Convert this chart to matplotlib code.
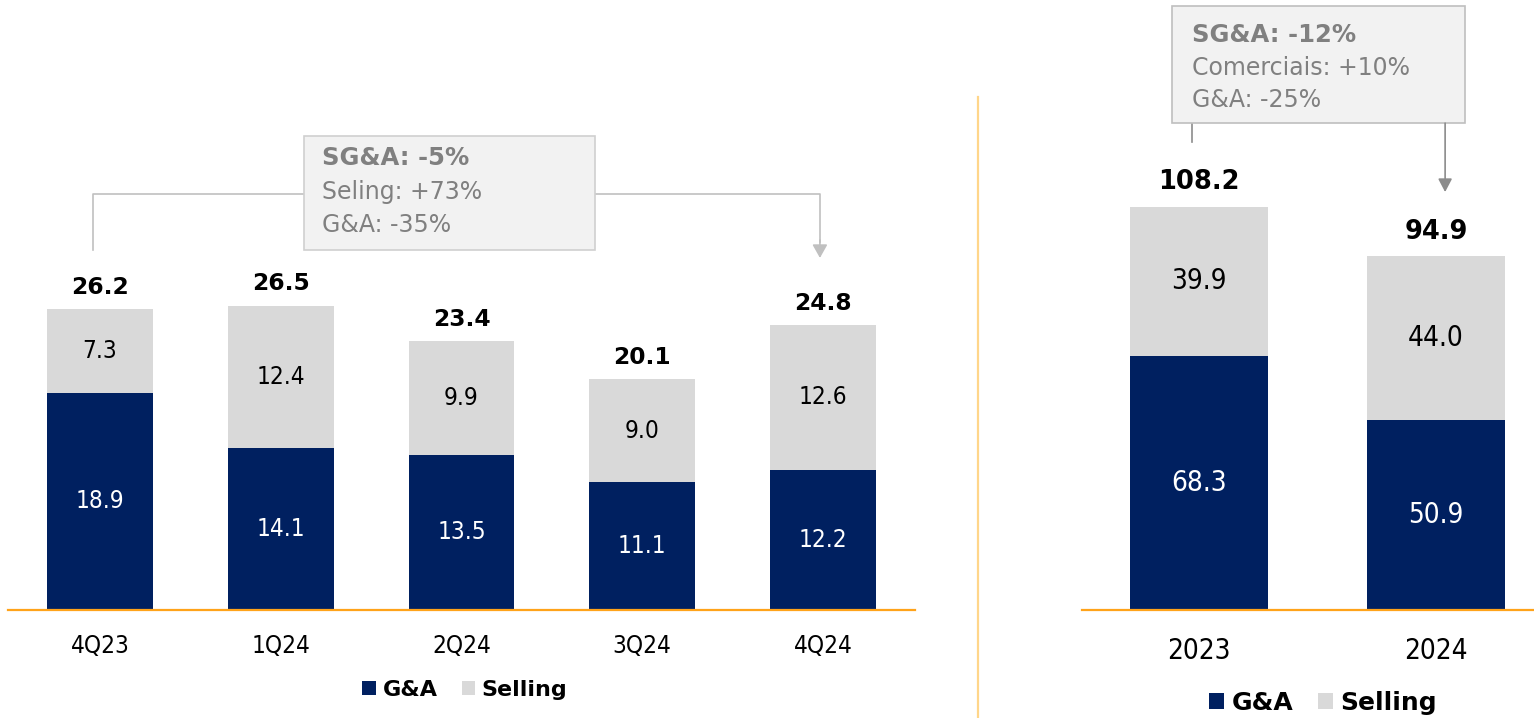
import matplotlib
matplotlib.use("Agg")
import matplotlib.pyplot as plt
from matplotlib.patches import Patch, Rectangle
from matplotlib.lines import Line2D

plt.rcParams['font.family'] = ['DejaVu Sans']

# ---- data ----
quarters = ["4Q23", "1Q24", "2Q24", "3Q24", "4Q24"]
q_ga = [18.9, 14.1, 13.5, 11.1, 12.2]
q_selling = [7.3, 12.4, 9.9, 9.0, 12.6]
q_total = [26.2, 26.5, 23.4, 20.1, 24.8]

years = ["2023", "2024"]
y_ga = [68.3, 50.9]
y_selling = [39.9, 44.0]
y_total = [108.2, 94.9]

series_names = ["G&A", "Selling"]
left_note = ["SG&A: -5%", "Seling: +73%", "G&A: -35%"]
right_note = ["SG&A: -12%", "Comerciais: +10%", "G&A: -25%"]

NAVY = "#002060"
GRAY = "#D9D9D9"
ORANGE = "#FFA31A"
NOTE_GRAY = "#808080"
STRETCH = "condensed"

W, H = 1534, 718
fig = plt.figure(figsize=(W / 100, H / 100), dpi=100)

def px_axes(x0, x1, y_bottom):
    return fig.add_axes([x0 / W, (H - y_bottom) / H, (x1 - x0) / W, y_bottom / H])

ax1 = px_axes(8, 915, 610)
ax2 = px_axes(1082, 1534, 610)

def draw(ax, cats, ga, sel, tot, width, inner_fs, tot_fs, cat_fs, pad, tot_off):
    x = list(range(len(cats)))
    ax.bar(x, ga, width, color=NAVY, edgecolor="none")
    ax.bar(x, sel, width, bottom=ga, color=GRAY, edgecolor="none")
    for i in x:
        ax.text(i, ga[i] / 2, f"{ga[i]:.1f}", ha="center", va="center",
                color="white", fontsize=inner_fs, fontstretch=STRETCH)
        ax.text(i, ga[i] + sel[i] / 2, f"{sel[i]:.1f}", ha="center", va="center",
                color="black", fontsize=inner_fs, fontstretch=STRETCH)
        ax.annotate(f"{tot[i]:.1f}", (i, tot[i]), xytext=(0, tot_off),
                    textcoords="offset points", ha="center", va="bottom",
                    fontsize=tot_fs, fontweight="bold", color="black")
    ax.set_xticks(x)
    ax.set_xticklabels(cats, fontsize=cat_fs, fontstretch=STRETCH)
    ax.tick_params(axis="x", length=0, pad=pad)
    ax.set_yticks([])
    for s in ["top", "left", "right"]:
        ax.spines[s].set_visible(False)
    ax.spines["bottom"].set_color(ORANGE)
    ax.spines["bottom"].set_linewidth(1.6)
    ax.patch.set_alpha(0)

draw(ax1, quarters, q_ga, q_selling, q_total, 0.586, 17.5, 16.8, 17.5, 17, 7.5)
ax1.set_xlim(-0.509, 4.509)
ax1.set_ylim(0, 610 / 11.49)

draw(ax2, years, y_ga, y_selling, y_total, 0.582, 20, 18.5, 20, 19.5, 8.5)
ax2.set_xlim(-0.494, 1.413)
ax2.set_ylim(0, 610 / 3.725)

# ---- left annotation ----
lc = "#C0C0C0"
ax1.add_patch(Rectangle((1.129, 31.33), 2.739 - 1.129, 41.25 - 31.33,
                        facecolor="#F2F2F2", edgecolor="#D0D0D0", lw=1.2, zorder=3))
ax1.plot([-0.039, -0.039, 1.129], [31.33, 36.2, 36.2], color=lc, lw=1.2, zorder=2)
ax1.plot([2.739, 3.983, 3.983], [36.2, 36.2, 32.0], color=lc, lw=1.2, zorder=2)
ax1.annotate("", xy=(3.983, 30.64), xytext=(3.983, 32.2),
             arrowprops=dict(arrowstyle="-|>,head_length=0.8,head_width=0.45",
                             color=lc, lw=1.2, shrinkA=0, shrinkB=0))
for k, (txt, yy) in enumerate(zip(left_note, [39.3, 36.4, 33.5])):
    ax1.text(1.23, yy, txt, ha="left", va="center",
             fontsize=17.5 if k == 0 else 17,
             color=NOTE_GRAY, fontweight="bold" if k == 0 else "normal", zorder=4)

# ---- right annotation ----
rc = "#8C8C8C"
ax2.add_patch(Rectangle((-0.114, 130.7), 1.122 + 0.114, 162.1 - 130.7,
                        facecolor="#F2F2F2", edgecolor="#BFBFBF", lw=1.2, zorder=3,
                        clip_on=False))
ax2.plot([-0.030, -0.030], [130.7, 125.6], color=rc, lw=1.2)
ax2.annotate("", xy=(1.038, 112.2), xytext=(1.038, 130.7),
             arrowprops=dict(arrowstyle="-|>,head_length=0.8,head_width=0.42",
                             color=rc, lw=1.2, shrinkA=0, shrinkB=0))
for k, (txt, yy) in enumerate(zip(right_note, [154.4, 145.6, 137.0])):
    ax2.text(-0.03, yy, txt, ha="left", va="center",
             fontsize=17.5 if k == 0 else 17,
             color=NOTE_GRAY, fontweight="bold" if k == 0 else "normal", zorder=4)

# ---- separator ----
fig.add_artist(Line2D([978 / W, 978 / W], [0, 1 - 97 / H], color="#FFD68A", lw=1.6))

# ---- legends ----
handles = [Patch(facecolor=NAVY, edgecolor="none"), Patch(facecolor=GRAY, edgecolor="none")]
fig.legend(handles, series_names, loc="center", bbox_to_anchor=(465 / W, 1 - 690 / H),
           ncol=2, frameon=False, prop={"weight": "bold", "size": 16},
           handlelength=0.6, handleheight=0.6, handletextpad=0.3, columnspacing=1.1)
fig.legend(handles, series_names, loc="center", bbox_to_anchor=(1323 / W, 1 - 703 / H),
           ncol=2, frameon=False, prop={"weight": "bold", "size": 18},
           handlelength=0.6, handleheight=0.6, handletextpad=0.3, columnspacing=1.0)

fig.savefig("out.png", dpi=100)
